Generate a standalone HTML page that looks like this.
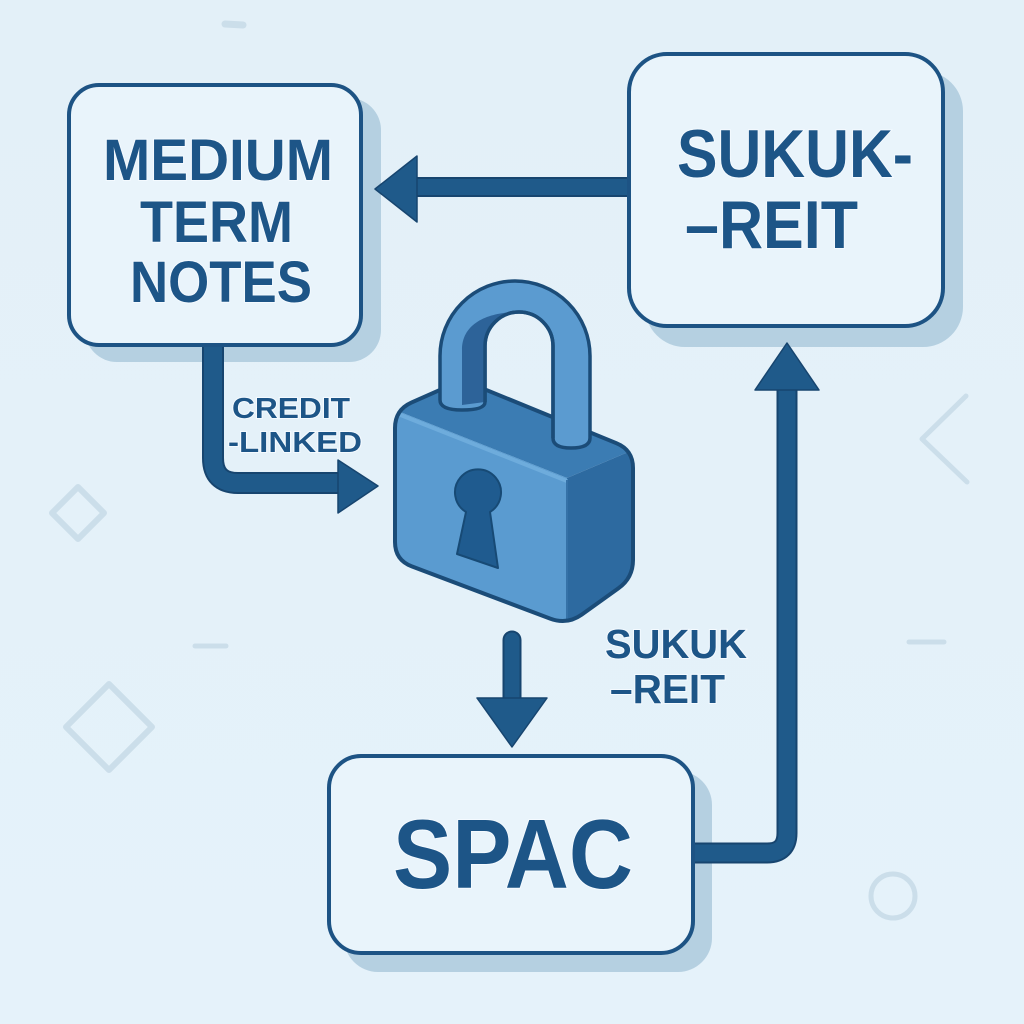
<!DOCTYPE html>
<html><head><meta charset="utf-8"><style>
html,body{margin:0;padding:0;background:#e4f1f9;}
svg{display:block;}
text{font-family:"Liberation Sans",Arial,sans-serif;font-weight:bold;fill:#1d5587;paint-order:stroke;stroke:#f4faff;stroke-width:2px;}
</style></head><body>
<svg width="1024" height="1024" viewBox="0 0 1024 1024" xmlns="http://www.w3.org/2000/svg">
<defs>
<linearGradient id="bg" x1="0" y1="0" x2="0" y2="1">
<stop offset="0" stop-color="#e3f0f8"/><stop offset="1" stop-color="#e5f2fa"/>
</linearGradient>
<clipPath id="lockclip"><path d="M 395,542 L 395,428 Q 395,410 411.4,402.6 L 445.6,387.4 Q 462,380 478.6,386.8 L 616.4,443.2 Q 633,450 633,468 L 633,560 Q 633,578 618.3,588.4 L 581.7,614.6 Q 567,625 550.2,618.6 L 411.8,566.4 Q 395,560 395,542 Z"/></clipPath>
</defs>
<rect width="1024" height="1024" fill="url(#bg)"/>

<!-- decorations -->
<g fill="none" stroke="#cbdeea" stroke-linecap="round" stroke-linejoin="round">
<line x1="225" y1="24" x2="243" y2="25" stroke-width="7"/>
<polygon points="78,487 104,513 78,539 52,513" stroke-width="6"/>
<polygon points="109,684 152,727 109,770 66,727" stroke-width="6"/>
<line x1="195" y1="646" x2="226" y2="646" stroke-width="5"/>
<polyline points="966,396 922,439 967,482" stroke-width="5"/>
<line x1="909" y1="642" x2="944" y2="642" stroke-width="5"/>
<circle cx="893" cy="896" r="22" stroke-width="5"/>
</g>

<!-- shadows -->
<rect x="85" y="98" width="296" height="264" rx="32" fill="#b5d0e1"/>
<rect x="645" y="71" width="318" height="276" rx="40" fill="#b5d0e1"/>
<rect x="344" y="771" width="368" height="201" rx="34" fill="#b5d0e1"/>

<!-- boxes -->
<rect x="69" y="85" width="292" height="260" rx="30" fill="#e9f4fb" stroke="#1d5384" stroke-width="4"/>
<rect x="629" y="54" width="314" height="272" rx="38" fill="#e9f4fb" stroke="#1d5384" stroke-width="4"/>
<rect x="329" y="756" width="364" height="197" rx="32" fill="#e9f4fb" stroke="#1d5384" stroke-width="4"/>

<!-- box texts -->
<text x="103" y="180" font-size="58" textLength="230" lengthAdjust="spacingAndGlyphs">MEDIUM</text>
<text x="140" y="242" font-size="58" textLength="153" lengthAdjust="spacingAndGlyphs">TERM</text>
<text x="130" y="302" font-size="58" textLength="182" lengthAdjust="spacingAndGlyphs">NOTES</text>
<text x="677" y="177" font-size="68" textLength="236" lengthAdjust="spacingAndGlyphs">SUKUK-</text>
<text x="685" y="248" font-size="68" textLength="173" lengthAdjust="spacingAndGlyphs">–REIT</text>
<text x="393" y="888" font-size="98" textLength="240" lengthAdjust="spacingAndGlyphs">SPAC</text>

<!-- connectors -->
<g fill="none" stroke-linejoin="round">
<!-- sukuk -> medium -->
<path d="M 627,187 L 412,187" stroke="#17456f" stroke-width="20"/>
<path d="M 627,187 L 412,187" stroke="#1f5a8a" stroke-width="16"/>
<!-- credit linked -->
<path d="M 213,347 L 213,458 Q 213,483 238,483 L 342,483" stroke="#17456f" stroke-width="22"/>
<path d="M 213,347 L 213,458 Q 213,483 238,483 L 342,483" stroke="#1f5a8a" stroke-width="18"/>
<!-- down arrow -->
<path d="M 512,640 L 512,702" stroke="#17456f" stroke-width="19" stroke-linecap="round"/>
<path d="M 512,640 L 512,702" stroke="#1f5a8a" stroke-width="15" stroke-linecap="round"/>
<!-- spac -> sukuk -->
<path d="M 695,853 L 767,853 Q 787,853 787,833 L 787,386" stroke="#17456f" stroke-width="21"/>
<path d="M 695,853 L 767,853 Q 787,853 787,833 L 787,386" stroke="#1f5a8a" stroke-width="17"/>
</g>
<g fill="#1f5a8a" stroke="#17456f" stroke-width="1.5" stroke-linejoin="round">
<polygon points="417,156 375,189 417,222"/>
<polygon points="338,460 378,486 338,513"/>
<polygon points="477,698 547,698 512,747"/>
<polygon points="755,390 819,390 787,343"/>
</g>

<!-- labels -->
<text x="232" y="418" font-size="29" textLength="118" lengthAdjust="spacingAndGlyphs">CREDIT</text>
<text x="228" y="452" font-size="29" textLength="134" lengthAdjust="spacingAndGlyphs">-LINKED</text>
<text x="605" y="658" font-size="41" textLength="142" lengthAdjust="spacingAndGlyphs">SUKUK</text>
<text x="610" y="703" font-size="41" textLength="115" lengthAdjust="spacingAndGlyphs">–REIT</text>

<!-- lock body -->
<g clip-path="url(#lockclip)">
<polygon points="395,410 462,380 633,450 567,478" fill="#3b7cb3"/>
<polygon points="395,410 567,478 567,625 395,560" fill="#5a9bd0"/>
<polygon points="567,478 633,450 633,578 567,625" fill="#2d6aa0"/>
<line x1="398" y1="414" x2="567" y2="481" stroke="#6eacdc" stroke-width="4"/>
<line x1="567" y1="480" x2="567" y2="625" stroke="#3572a8" stroke-width="2"/>
</g>
<path d="M 395,542 L 395,428 Q 395,410 411.4,402.6 L 445.6,387.4 Q 462,380 478.6,386.8 L 616.4,443.2 Q 633,450 633,468 L 633,560 Q 633,578 618.3,588.4 L 581.7,614.6 Q 567,625 550.2,618.6 L 411.8,566.4 Q 395,560 395,542 Z" fill="none" stroke="#1b4c78" stroke-width="4"/>

<!-- shackle -->
<path fill-rule="evenodd" d="M 440,400 L 440,356 A 75,75 0 0 1 590,356 L 590,438 Q 590,448 571,448 Q 553,448 553,438 L 553,346 A 34,34 0 0 0 485,346 L 485,402 Q 485,410 462,410 Q 440,410 440,400 Z" fill="#5b9bd0" stroke="#1b4c78" stroke-width="3.5" stroke-linejoin="round"/>
<path d="M 462,405 L 462,350 C 462,322 490,312 519,312 A 34,34 0 0 0 485,346 L 485,402 Z" fill="#2d6399"/>
<path d="M 485,402 L 485,346 A 34,34 0 0 1 553,346 L 553,438" fill="none" stroke="#1b4c78" stroke-width="3.5"/>

<!-- keyhole -->
<path d="M 466,512 A 23,23 0 1 1 490,512 L 498,568 L 457,554 Z" fill="#1f5b8f" stroke="#174a75" stroke-width="2" stroke-linejoin="round"/>
</svg>
</body></html>
